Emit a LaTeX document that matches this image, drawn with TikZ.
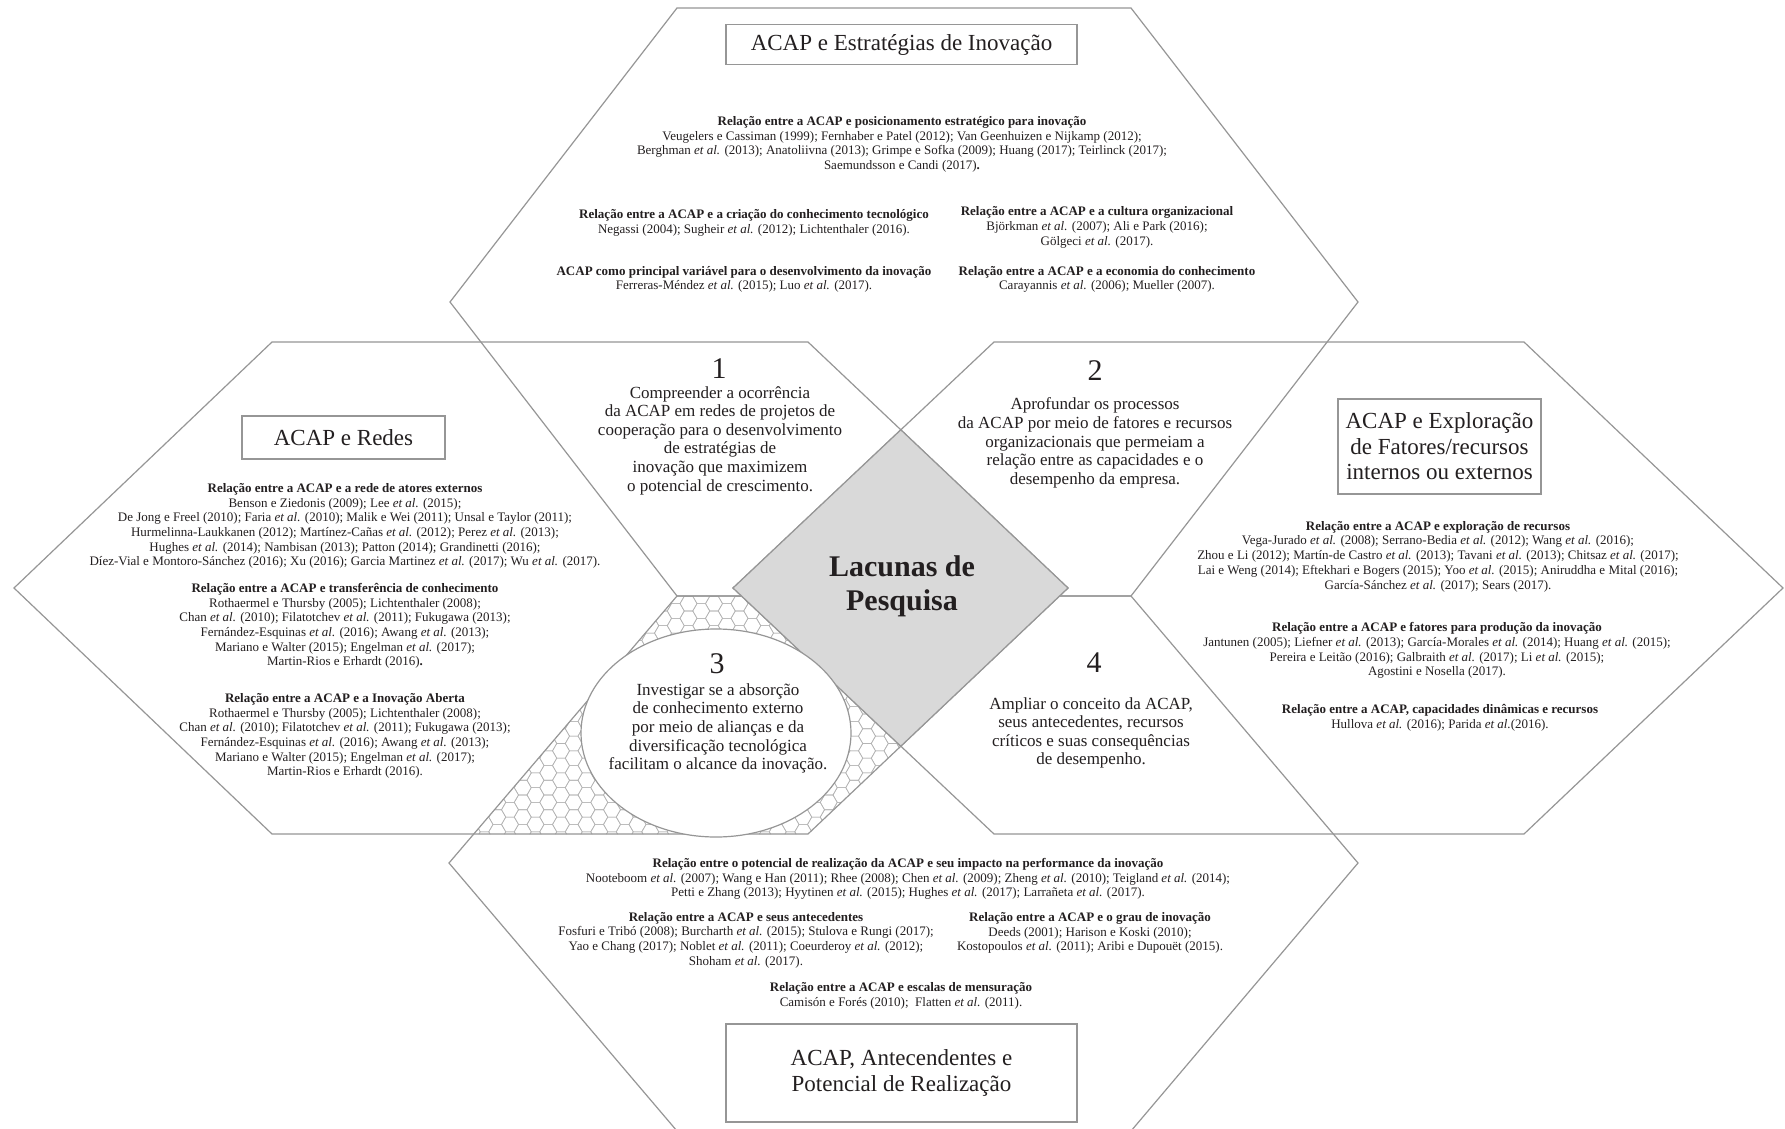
\documentclass[tikz,border=0pt]{standalone}
\usepackage{fontspec}
\setmainfont{Liberation Serif}
\definecolor{edge}{RGB}{150,150,150}
\definecolor{ink}{RGB}{35,31,32}
\definecolor{coregray}{RGB}{217,217,217}
\definecolor{comb}{RGB}{180,180,180}
\tikzset{
  hexline/.style={draw=edge, line width=1.2pt, line join=miter},
  titlebox/.style={draw=edge, line width=1.2pt, fill=white, text=ink, align=center,
    inner sep=0pt, font=\fontsize{23}{25.5}\selectfont},
  refs/.style={text=ink, align=center, inner sep=0pt, font=\fontsize{13}{14.7}\selectfont},
  gaptext/.style={text=ink, align=center, inner sep=0pt, font=\fontsize{17}{18.6}\selectfont},
  gapnum/.style={text=ink, inner sep=0pt, text depth=0pt, font=\fontsize{30}{32}\selectfont},
  corebox/.style={fill=coregray, draw=edge, line width=1.2pt},
  oval/.style={fill=white, draw=edge, line width=1.2pt},
}
\newcommand{\ea}{\textit{et al.}}
\begin{document}
\begin{tikzpicture}[x=1pt,y=-1pt]
\useasboundingbox (0,0) rectangle (1785,1129);
\fill[white] (0,0) rectangle (1785,1129);

% honeycomb texture in the lower-left overlap (bottom and left hexagons)
\begin{scope}
  \clip (677,596) -- (1060,596) -- (808,834) -- (474,834) -- cycle;
  \foreach \i in {36,...,72}{
    \foreach \j in {40,...,57}{
      \pgfmathsetmacro{\cx}{12.75*\i}
      \pgfmathsetmacro{\cy}{14.722*\j + 7.361*mod(\i,2)}
      \draw[comb, line width=0.6pt] (\cx+8.5,\cy) -- (\cx+4.25,\cy+7.361) -- (\cx-4.25,\cy+7.361)
        -- (\cx-8.5,\cy) -- (\cx-4.25,\cy-7.361) -- (\cx+4.25,\cy-7.361) -- cycle;
    }
  }
\end{scope}

% the four hexagons
\draw[hexline] (450,302) -- (677,8) -- (1131,8) -- (1358,302) -- (1131,596) -- (677,596) -- cycle;
\draw[hexline] (449,863) -- (677,596) -- (1131,596) -- (1358,863) -- (1131,1131) -- (677,1131) -- cycle;
\draw[hexline] (14,588) -- (272,342) -- (808,342) -- (1068,588) -- (808,834) -- (272,834) -- cycle;
\draw[hexline] (733,588) -- (994,342) -- (1524,342) -- (1783,588) -- (1524,834) -- (994,834) -- cycle;

% central overlap
\draw[corebox] (900.8,429.8) -- (1068,588) -- (900.8,746.2) -- (733,588) -- cycle;
\node[text=ink, align=center, inner sep=0pt, font=\fontsize{30}{34}\selectfont\bfseries]
  (core) at (902,586) {Lacunas de\\Pesquisa};

% oval of gap 3
\draw[oval] (716,733) ellipse [x radius=135pt, y radius=104pt];

% title boxes
\node[titlebox, minimum width=351pt, minimum height=40pt] (boxtop) at (901.5,44.5)
  {ACAP e Estratégias de Inovação};
\node[titlebox, minimum width=203pt, minimum height=43pt] (boxleft) at (343.5,437.5)
  {ACAP e Redes};
\node[titlebox, minimum width=203pt, minimum height=95pt] (boxright) at (1439.5,446.5)
  {ACAP e Exploração\\de Fatores/recursos\\internos ou externos};
\node[titlebox, minimum width=351pt, minimum height=98pt] (boxbottom) at (901.5,1073)
  {ACAP, Antecendentes e\\Potencial de Realização};

% top hexagon: innovation strategies
\node[refs] (t1) at (902,144.5) {\textbf{Relação entre a ACAP e posicionamento estratégico para inovação}\\
  Veugelers e Cassiman (1999); Fernhaber e Patel (2012); Van Geenhuizen e Nijkamp (2012);\\
  Berghman \ea{} (2013); Anatoliivna (2013); Grimpe e Sofka (2009); Huang (2017); Teirlinck (2017);\\
  Saemundsson e Candi (2017)\textbf{.}};
\node[refs] (t2) at (754,223) {\textbf{Relação entre a ACAP e a criação do conhecimento tecnológico}\\
  Negassi (2004); Sugheir \ea{} (2012); Lichtenthaler (2016).};
\node[refs] (t3) at (1097,227.5) {\textbf{Relação entre a ACAP e a cultura organizacional}\\
  Björkman \ea{} (2007); Ali e Park (2016);\\
  Gölgeci \ea{} (2017).};
\node[refs] (t4) at (744,279.5) {\textbf{ACAP como principal variável para o desenvolvimento da inovação}\\
  Ferreras-Méndez \ea{} (2015); Luo \ea{} (2017).};
\node[refs] (t5) at (1107,279.5) {\textbf{Relação entre a ACAP e a economia do conhecimento}\\
  Carayannis \ea{} (2006); Mueller (2007).};

% left hexagon: networks
\node[refs] (l1) at (345,526) {\textbf{Relação entre a ACAP e a rede de atores externos}\\
  Benson e Ziedonis (2009); Lee \ea{} (2015);\\
  De Jong e Freel (2010); Faria \ea{} (2010); Malik e Wei (2011); Unsal e Taylor (2011);\\
  Hurmelinna-Laukkanen (2012); Martínez-Cañas \ea{} (2012); Perez \ea{} (2013);\\
  Hughes \ea{} (2014); Nambisan (2013); Patton (2014); Grandinetti (2016);\\
  Díez-Vial e Montoro-Sánchez (2016); Xu (2016); Garcia Martinez \ea{} (2017); Wu \ea{} (2017).};
\node[refs] (l2) at (345,626) {\textbf{Relação entre a ACAP e transferência de conhecimento}\\
  Rothaermel e Thursby (2005); Lichtenthaler (2008);\\
  Chan \ea{} (2010); Filatotchev \ea{} (2011); Fukugawa (2013);\\
  Fernández-Esquinas \ea{} (2016); Awang \ea{} (2013);\\
  Mariano e Walter (2015); Engelman \ea{} (2017);\\
  Martin-Rios e Erhardt (2016)\textbf{.}};
\node[refs] (l3) at (345,736) {\textbf{Relação entre a ACAP e a Inovação Aberta}\\
  Rothaermel e Thursby (2005); Lichtenthaler (2008);\\
  Chan \ea{} (2010); Filatotchev \ea{} (2011); Fukugawa (2013);\\
  Fernández-Esquinas \ea{} (2016); Awang \ea{} (2013);\\
  Mariano e Walter (2015); Engelman \ea{} (2017);\\
  Martin-Rios e Erhardt (2016).};

% right hexagon: resources
\node[refs] (r1) at (1438,556.5) {\textbf{Relação entre a ACAP e exploração de recursos}\\
  Vega-Jurado \ea{} (2008); Serrano-Bedia \ea{} (2012); Wang \ea{} (2016);\\
  Zhou e Li (2012); Martín-de Castro \ea{} (2013); Tavani \ea{} (2013); Chitsaz \ea{} (2017);\\
  Lai e Weng (2014); Eftekhari e Bogers (2015); Yoo \ea{} (2015); Aniruddha e Mital (2016);\\
  García-Sánchez \ea{} (2017); Sears (2017).};
\node[refs] (r2) at (1437,650.5) {\textbf{Relação entre a ACAP e fatores para produção da inovação}\\
  Jantunen (2005); Liefner \ea{} (2013); García-Morales \ea{} (2014); Huang \ea{} (2015);\\
  Pereira e Leitão (2016); Galbraith \ea{} (2017); Li \ea{} (2015);\\
  Agostini e Nosella (2017).};
\node[refs] (r3) at (1440,717.5) {\textbf{Relação entre a ACAP, capacidades dinâmicas e recursos}\\
  Hullova \ea{} (2016); Parida \ea{}(2016).};

% bottom hexagon: antecedents and realized potential
\node[refs] (b1) at (908,879) {\textbf{Relação entre o potencial de realização da ACAP e seu impacto na performance da inovação}\\
  Nooteboom \ea{} (2007); Wang e Han (2011); Rhee (2008); Chen \ea{} (2009); Zheng \ea{} (2010); Teigland \ea{} (2014);\\
  Petti e Zhang (2013); Hyytinen \ea{} (2015); Hughes \ea{} (2017); Larrañeta \ea{} (2017).};
\node[refs] (b2) at (746,940) {\textbf{Relação entre a ACAP e seus antecedentes}\\
  Fosfuri e Tribó (2008); Burcharth \ea{} (2015); Stulova e Rungi (2017);\\
  Yao e Chang (2017); Noblet \ea{} (2011); Coeurderoy \ea{} (2012);\\
  Shoham \ea{} (2017).};
\node[refs] (b3) at (1090,933) {\textbf{Relação entre a ACAP e o grau de inovação}\\
  Deeds (2001); Harison e Koski (2010);\\
  Kostopoulos \ea{} (2011); Aribi e Dupouët (2015).};
\node[refs] (b4) at (901,996) {\textbf{Relação entre a ACAP e escalas de mensuração}\\
  Camisón e Forés (2010);\ \ Flatten \ea{} (2011).};

% research gaps 1-4
\node[gapnum] (g1n) at (719,369) {1};
\node[gaptext] (g1) at (720,440.5) {Compreender a ocorrência\\da ACAP em redes de projetos de\\cooperação para o desenvolvimento\\de estratégias de\\inovação que maximizem\\o potencial de crescimento.};
\node[gapnum] (g2n) at (1095,371) {2};
\node[gaptext] (g2) at (1095,443) {Aprofundar os processos\\da ACAP por meio de fatores e recursos\\organizacionais que permeiam a\\relação entre as capacidades e o\\desempenho da empresa.};
\node[gapnum] (g3n) at (717,664) {3};
\node[gaptext] (g3) at (718,728.5) {Investigar se a absorção\\de conhecimento externo\\por meio de alianças e da\\diversificação tecnológica\\facilitam o alcance da inovação.};
\node[gapnum] (g4n) at (1094,663) {4};
\node[gaptext] (g4) at (1091,733) {Ampliar o conceito da ACAP,\\seus antecedentes, recursos\\críticos e suas consequências\\de desempenho.};
\end{tikzpicture}
\end{document}
